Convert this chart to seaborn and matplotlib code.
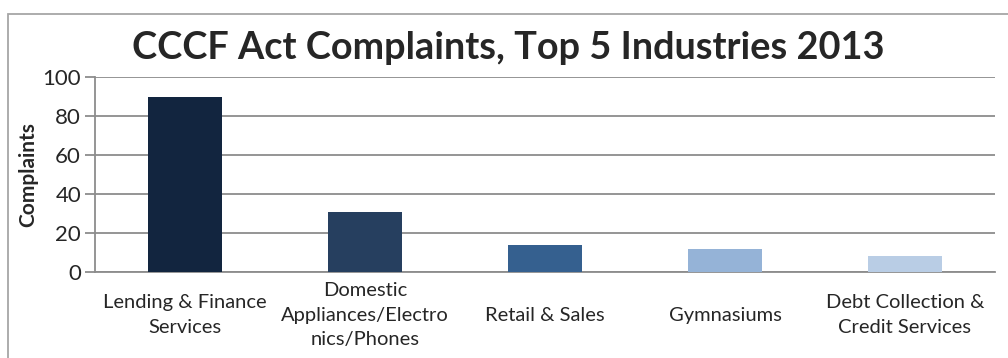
import matplotlib
matplotlib.use("Agg")
import matplotlib.pyplot as plt
import seaborn as sns
import pandas as pd
from matplotlib.patches import Rectangle

categories = ["Lending & Finance\nServices",
              "Domestic\nAppliances/Electro\nnics/Phones",
              "Retail & Sales",
              "Gymnasiums",
              "Debt Collection &\nCredit Services"]
complaints = [90, 31, 14, 12, 8]
bar_colors = ["#12253F", "#263F5F", "#35608F", "#95B3D7", "#B9CDE5"]
title = "CCCF Act Complaints, Top 5 Industries 2013"
ylabel = "Complaints"
yticks = [0, 20, 40, 60, 80, 100]

sns.set_style("white")
plt.rcParams['font.family'] = ['Lato', 'DejaVu Sans']

df = pd.DataFrame({"cat": categories, "val": complaints})

fig = plt.figure(figsize=(10.08, 3.58), dpi=100)
ax = fig.add_axes([95/1008, 1-272/358, 900/1008, 195/358])

sns.barplot(data=df, x="cat", y="val", hue="cat", palette=bar_colors,
            width=0.41, legend=False, ax=ax, saturation=1, zorder=3,
            linewidth=0)

ax.set_ylim(0, 100)
ax.set_xlim(-0.5, 4.5)
ax.set_yticks(yticks)
ax.set_yticklabels([str(t) for t in yticks], fontsize=16)
ax.yaxis.grid(True, color="#8c8c8c", linewidth=1.3, zorder=0)
ax.set_axisbelow(True)
for s in ["top", "right"]:
    ax.spines[s].set_visible(False)
for s in ["left", "bottom"]:
    ax.spines[s].set_color("#8c8c8c")
    ax.spines[s].set_linewidth(1.3)
ax.tick_params(axis="y", length=7, width=1.3, color="#8c8c8c", pad=3, direction="out", left=True)
ax.tick_params(axis="x", length=0, pad=31)
for lbl in ax.get_xticklabels():
    lbl.set_fontsize(14.5)
    lbl.set_va("center")
    lbl.set_linespacing(1.55)
ax.set_xlabel("")
ax.set_ylabel(ylabel, fontsize=15, fontweight="bold", labelpad=3)

fig.text(508/1008, 1-48/358, title, ha="center", va="center",
         fontsize=27.3, fontweight="bold")

fig.patches.append(Rectangle((8/1008, -0.05), 1.2, 1-14/358+0.05,
                             transform=fig.transFigure, fill=False,
                             edgecolor="#a6a6a6", linewidth=1.3))

fig.savefig("out.png", dpi=100)
